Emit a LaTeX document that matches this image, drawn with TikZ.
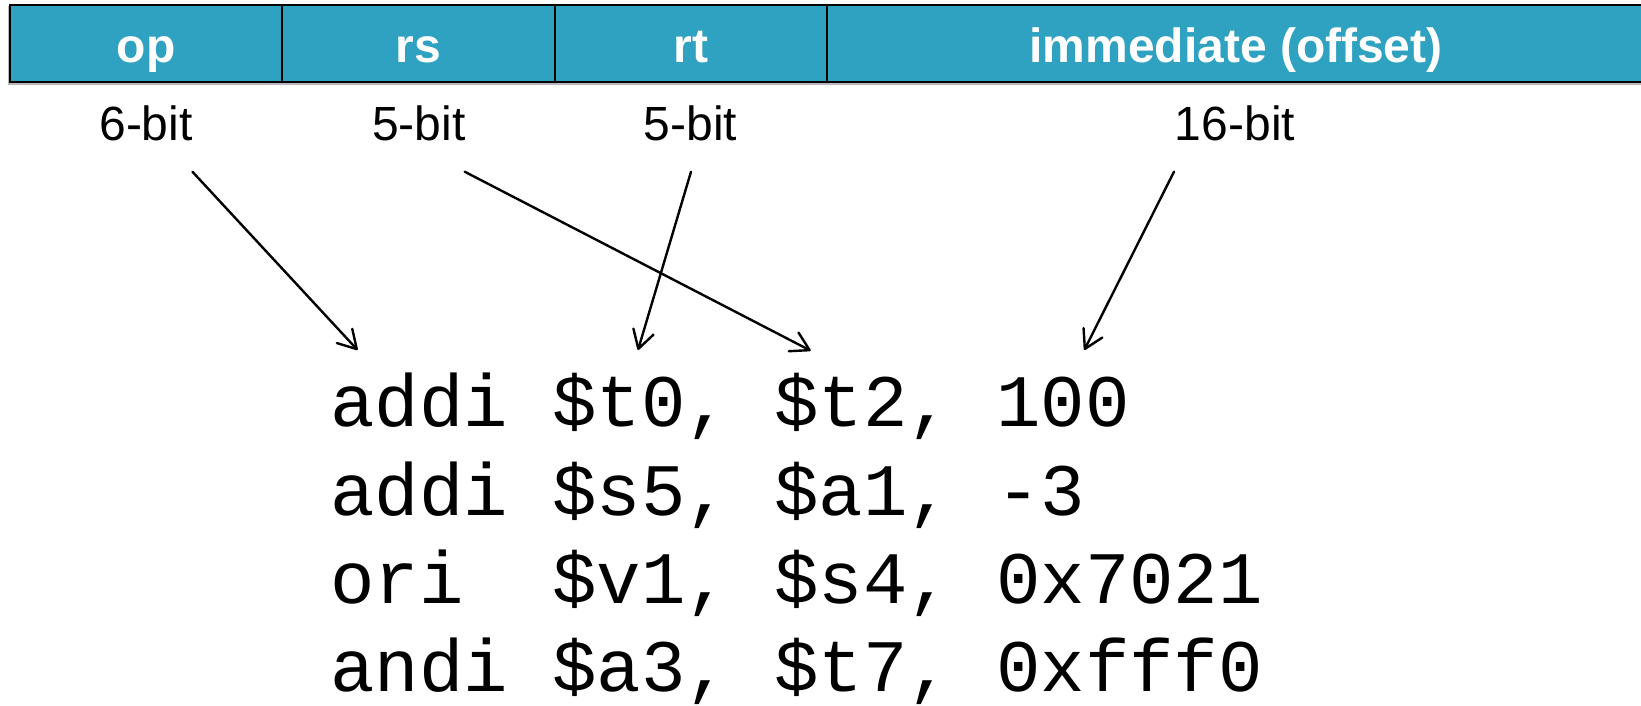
\documentclass[tikz,border=0pt]{standalone}
\usepackage{fontspec}
\setmainfont{Liberation Sans}
\newfontfamily\codefont{Liberation Mono}
\usetikzlibrary{arrows.meta}
\definecolor{fieldblue}{RGB}{46,162,192}
\begin{document}
\begin{tikzpicture}[x=1pt,y=-1pt,
  field/.style={draw=black, line width=2pt, fill=fieldblue, inner sep=0pt,
    minimum height=77.5pt, text height=37pt, text depth=0pt, text=white,
    font=\fontsize{48}{52}\selectfont\bfseries},
  bits/.style={anchor=base, inner sep=0pt, font=\fontsize{48}{52}\selectfont},
  code/.style={anchor=base west, inner sep=0pt, font=\codefont\fontsize{74}{80}\selectfont},
  conn/.style={line width=2.4pt, line cap=round,
    -{Straight Barb[length=18pt, width=21pt, line cap=round, line join=round]}}]
\useasboundingbox (0,0) rectangle (1641,705);

% instruction format fields
\fill[gray!55] (8,5.5) rectangle (1650,84.5);
\node[field, minimum width=272pt]  (op)  at (146,43.5)  {op};
\node[field, minimum width=272.5pt](rs)  at (418.25,43.5) {rs};
\node[field, minimum width=272.5pt](rt)  at (690.75,43.5) {rt};
\node[field, minimum width=818pt]  (imm) at (1236,43.5) {immediate (offset)};

% field widths
\node[bits] (b6)  at (146,140)   {6-bit};
\node[bits] (b5s) at (418.7,140) {5-bit};
\node[bits] (b5t) at (690.6,140) {5-bit};
\node[bits] (b16) at (1235,140)  {16-bit};

% example instructions
\node[code] (l1) at (330,426.7) {addi \$t0, \$t2, 100};
\node[code] (l2) at (330,515)   {addi \$s5, \$a1, -3};
\node[code] (l3) at (330,603.3) {ori\ \ \$v1, \$s4, 0x7021};
\node[code] (l4) at (330,691.7) {andi \$a3, \$t7, 0xfff0};

% arrow ends
\coordinate (opTail)  at (192.4,171.7);
\coordinate (opHead)  at (357.6,350);
\coordinate (rsTail)  at (464.7,171.7);
\coordinate (rsHead)  at (810.7,350.7);
\coordinate (rtTail)  at (691,171.7);
\coordinate (rtHead)  at (638,350);
\coordinate (immTail) at (1174,171.7);
\coordinate (immHead) at (1084.3,350);

\draw[conn] (opTail) -- (opHead);
\draw[conn] (rsTail) -- (rsHead);
\draw[conn] (rtTail) -- (rtHead);
\draw[conn] (immTail) -- (immHead);
\end{tikzpicture}
\end{document}
